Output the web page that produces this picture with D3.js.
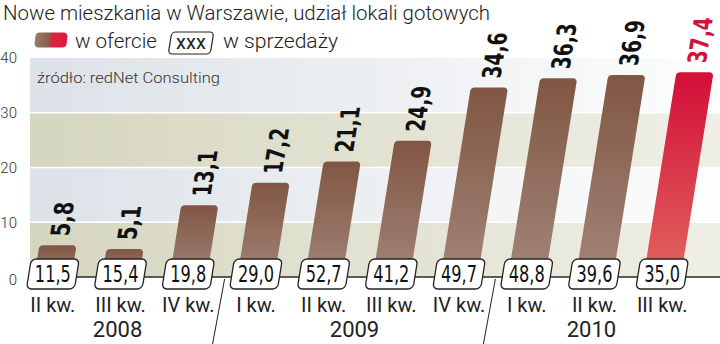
<!DOCTYPE html>
<html>
<head>
<meta charset="utf-8">
<script src="https://cdn.jsdelivr.net/npm/d3@7/dist/d3.min.js"></script>
<style>
  html, body { margin: 0; padding: 0; background: #fff; }
  svg { display: block; }
  text { font-family: Roboto, "DejaVu Sans", sans-serif; }
  .num { font-family: "DejaVu Sans Condensed", "DejaVu Sans", sans-serif; }
</style>
</head>
<body>
<div id="chart"></div>
<script>
// data
var quarters = ["II kw.", "III kw.", "IV kw.", "I kw.", "II kw.", "III kw.", "IV kw.", "I kw.", "II kw.", "III kw."];
var quarterYear = [0, 0, 0, 1, 1, 1, 1, 2, 2, 2];
var years = ["2008", "2009", "2010"];
var offer = [5.8, 5.1, 13.1, 17.2, 21.1, 24.9, 34.6, 36.3, 36.9, 37.4];   // w ofercie
var sold = [11.5, 15.4, 19.8, 29.0, 52.7, 41.2, 49.7, 48.8, 39.6, 35.0];  // w sprzedaży
var yTicks = [0, 10, 20, 30, 40];

var W = 720, H = 344;
var SKEW = -9.1;                      // bars lean to the right
var pl = d3.formatLocale({decimal: ",", thousands: " ", grouping: [3], currency: ["", ""]});
var fmt = pl.format(".1f");

var svg = d3.select("#chart").append("svg")
    .attr("width", W).attr("height", H);

var defs = svg.append("defs");

function hgrad(id, c0, c1) {
    var g = defs.append("linearGradient").attr("id", id)
        .attr("x1", 0).attr("x2", 1).attr("y1", 0).attr("y2", 0);
    g.append("stop").attr("offset", 0).attr("stop-color", c0);
    g.append("stop").attr("offset", 1).attr("stop-color", c1);
}
function vgrad(id, c0, c1) {
    var g = defs.append("linearGradient").attr("id", id)
        .attr("x1", 0).attr("x2", 0).attr("y1", 0).attr("y2", 1);
    g.append("stop").attr("offset", 0).attr("stop-color", c0);
    g.append("stop").attr("offset", 1).attr("stop-color", c1);
}
hgrad("bandGreen", "#d5d6bf", "#efefe6");
hgrad("bandBlue", "#dce2e8", "#fdfdfd");
vgrad("barBrown", "#815643", "#a28679");
vgrad("barRed", "#d30f38", "#e2665f");
var sw = defs.append("linearGradient").attr("id", "legendSw");
sw.append("stop").attr("offset", 0).attr("stop-color", "#9a7a6a");
sw.append("stop").attr("offset", 0.4).attr("stop-color", "#8a6150");
sw.append("stop").attr("offset", 0.55).attr("stop-color", "#d8263f");
sw.append("stop").attr("offset", 1).attr("stop-color", "#e0173d");

var x = d3.scaleBand()
    .domain(d3.range(offer.length))
    .range([19, 696])
    .paddingInner(0.45)
    .paddingOuter(0.225);

var y = d3.scaleLinear().domain([0, 40]).range([277, 58]);

// background bands
svg.append("g").selectAll("rect")
    .data(d3.pairs(yTicks))
    .join("rect")
    .attr("x", 30).attr("width", W - 30)
    .attr("y", d => y(d[1])).attr("height", d => y(d[0]) - y(d[1]))
    .attr("fill", (d, i) => i % 2 === 0 ? "url(#bandGreen)" : "url(#bandBlue)");

// white grid lines
svg.append("g").selectAll("line")
    .data(yTicks.slice(1, 4))
    .join("line")
    .attr("x1", 30).attr("x2", W)
    .attr("y1", d => y(d)).attr("y2", d => y(d))
    .attr("stroke", "#fff").attr("stroke-width", 1.6);

// y labels
svg.append("g").selectAll("text")
    .data(yTicks)
    .join("text")
    .attr("x", 17).attr("y", d => y(d) + (d === 0 ? 3 : 0))
    .attr("dy", "0.35em")
    .attr("text-anchor", "end")
    .attr("font-size", 15)
    .attr("font-weight", 300)
    .attr("fill", "#333")
    .text(d => d);

// source
svg.append("text")
    .attr("x", 37).attr("y", 83)
    .attr("font-size", 15).attr("font-weight", 300).attr("fill", "#333")
    .attr("textLength", 183).attr("lengthAdjust", "spacingAndGlyphs")
    .text("źródło: redNet Consulting");

// bars
var last = offer.length - 1;
var bars = svg.append("g").selectAll("g")
    .data(offer)
    .join("g")
    .attr("transform", (d, i) => "translate(" + (x(i) + x.bandwidth() / 2) + "," + y(0) + ") skewX(" + SKEW + ")");

bars.append("rect")
    .attr("x", -x.bandwidth() / 2)
    .attr("width", x.bandwidth())
    .attr("y", d => y(d) - y(0))
    .attr("height", d => y(0) - y(d) + 4)
    .attr("rx", 4)
    .attr("fill", (d, i) => i === last ? "url(#barRed)" : "url(#barBrown)");

// value labels, rotated along the bars
bars.append("text")
    .attr("class", "num")
    .attr("transform", d => "translate(0," + (y(d) - y(0) - 9) + ") rotate(-90)")
    .attr("dy", "0.36em")
    .attr("font-size", 26)
    .attr("font-weight", "bold")
    .attr("fill", (d, i) => i === last ? "#d3123a" : "#111")
    .attr("textLength", d => fmt(d).length * 11.5)
    .attr("lengthAdjust", "spacingAndGlyphs")
    .text(d => fmt(d));

// zero line
svg.append("line")
    .attr("x1", 30).attr("x2", W)
    .attr("y1", y(0)).attr("y2", y(0))
    .attr("stroke", "#2a2a2a").attr("stroke-width", 1.6);

// sales boxes
var boxes = svg.append("g").selectAll("g")
    .data(sold)
    .join("g")
    .attr("transform", (d, i) => "translate(" + (x(i) + x.bandwidth() / 2) + "," + (y(0) - 3) + ")");

boxes.append("rect")
    .attr("transform", "skewX(" + SKEW + ")")
    .attr("x", -24).attr("y", -15)
    .attr("width", 48).attr("height", 30)
    .attr("rx", 5)
    .attr("fill", "#fff")
    .attr("stroke", "#222").attr("stroke-width", 1.3);

boxes.append("text")
    .attr("class", "num")
    .attr("y", 8)
    .attr("text-anchor", "middle")
    .attr("font-size", 23)
    .attr("fill", "#111")
    .attr("textLength", 36)
    .attr("lengthAdjust", "spacingAndGlyphs")
    .text(d => fmt(d));

// quarter labels
svg.append("g").selectAll("text")
    .data(quarters)
    .join("text")
    .attr("x", (d, i) => x(i) + x.bandwidth() / 2)
    .attr("y", 312)
    .attr("text-anchor", "middle")
    .attr("font-size", 20)
    .attr("fill", "#222")
    .text(d => d);

// year labels
svg.append("g").selectAll("text")
    .data(years)
    .join("text")
    .attr("x", (d, k) => d3.mean(d3.range(quarters.length).filter(i => quarterYear[i] === k), i => x(i) + x.bandwidth() / 2) - 3)
    .attr("y", 337)
    .attr("text-anchor", "middle")
    .attr("font-size", 22)
    .attr("fill", "#222")
    .text(d => d);

// year separators
var seps = d3.range(1, quarters.length).filter(i => quarterYear[i] !== quarterYear[i - 1]);
svg.append("g").selectAll("line")
    .data(seps)
    .join("line")
    .attr("x1", i => (x(i - 1) + x(i) + x.bandwidth()) / 2 + 2.5)
    .attr("y1", y(0) + 2)
    .attr("x2", i => (x(i - 1) + x(i) + x.bandwidth()) / 2 - 9.5)
    .attr("y2", H)
    .attr("stroke", "#222").attr("stroke-width", 1);

// title
svg.append("text")
    .attr("x", 3).attr("y", 20)
    .attr("font-size", 21).attr("font-weight", 300).attr("fill", "#222")
    .attr("textLength", 487).attr("lengthAdjust", "spacingAndGlyphs")
    .text("Nowe mieszkania w Warszawie, udział lokali gotowych");

// legend
var lg = svg.append("g");
lg.append("rect")
    .attr("transform", "translate(51,40) skewX(-6)")
    .attr("x", -16).attr("y", -7.5).attr("width", 32).attr("height", 15)
    .attr("rx", 4).attr("fill", "url(#legendSw)");
lg.append("text")
    .attr("x", 75).attr("y", 48)
    .attr("font-size", 20).attr("font-weight", 300).attr("fill", "#222")
    .attr("textLength", 82).attr("lengthAdjust", "spacingAndGlyphs")
    .text("w ofercie");
lg.append("rect")
    .attr("transform", "translate(191,43) skewX(" + SKEW + ")")
    .attr("x", -21).attr("y", -11).attr("width", 42).attr("height", 22)
    .attr("rx", 4).attr("fill", "#fff")
    .attr("stroke", "#222").attr("stroke-width", 1.2);
lg.append("text")
    .attr("x", 191).attr("y", 49)
    .attr("text-anchor", "middle")
    .attr("font-size", 20).attr("fill", "#222")
    .text("xxx");
lg.append("text")
    .attr("x", 223).attr("y", 48)
    .attr("font-size", 20).attr("font-weight", 300).attr("fill", "#222")
    .attr("textLength", 115).attr("lengthAdjust", "spacingAndGlyphs")
    .text("w sprzedaży");
</script>
</body>
</html>
